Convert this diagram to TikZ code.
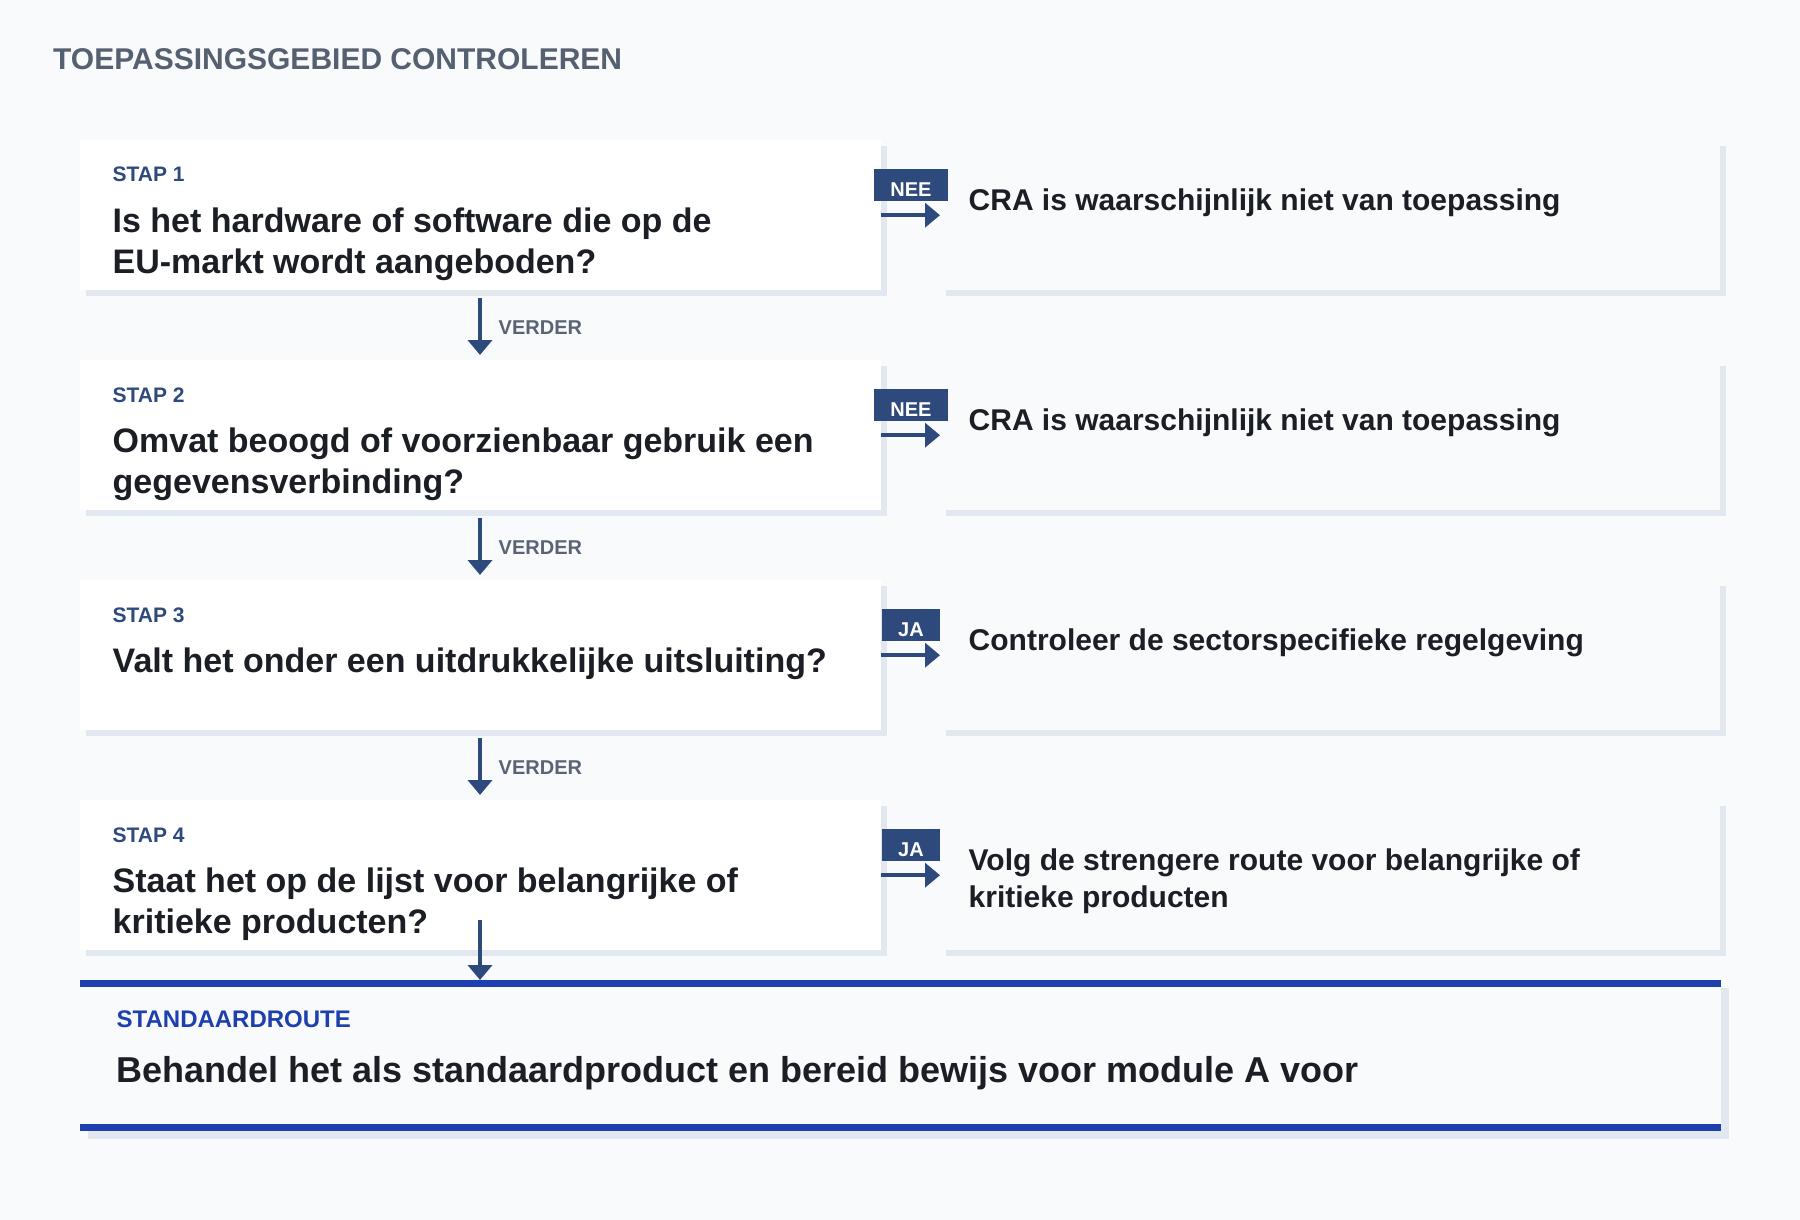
\documentclass[tikz,border=0pt]{standalone}
\usepackage{fontspec}
\setmainfont{Liberation Sans}
\usetikzlibrary{arrows.meta,calc}
\definecolor{bg}{HTML}{F8FAFC}
\definecolor{shadowc}{HTML}{E2E8F0}
\definecolor{navy}{HTML}{2E4A7D}
\definecolor{ink}{HTML}{1B1E24}
\definecolor{slate}{HTML}{556070}
\definecolor{muted}{HTML}{5A6475}
\definecolor{royal}{HTML}{1E40AF}
\newcommand{\mylines}[2]{\vtop{\hbox{#1}\hbox{#2}}}
\begin{document}
\begin{tikzpicture}[x=1pt,y=-1pt,
  shadowed/.style={preaction={fill=shadowc,transform canvas={shift={(#1,-#1)}}}},
  stepbox/.style={anchor=north west,inner sep=0pt,minimum width=801pt,minimum height=150pt,fill=white,shadowed=6pt},
  resultbox/.style={anchor=north west,inner sep=0pt,minimum width=780pt,minimum height=150pt,fill=bg,shadowed=6pt},
  stdbox/.style={anchor=north west,inner sep=0pt,minimum width=1641pt,minimum height=151pt,fill=bg,shadowed=8pt},
  steplabel/.style={anchor=base west,inner sep=0pt,text=navy,font=\fontsize{21}{25}\selectfont\bfseries},
  question/.style={anchor=base west,inner sep=0pt,text=ink,font=\fontsize{34}{41}\selectfont\bfseries},
  result/.style={anchor=base west,inner sep=0pt,text=ink,font=\fontsize{30}{37.3}\selectfont\bfseries},
  tag/.style={anchor=north,fill=navy,text=white,inner xsep=16.5pt,inner ysep=0pt,text height=27pt,text depth=5pt,font=\fontsize{20}{24}\selectfont\bfseries},
  flow/.style={draw=navy,line width=4.5pt,-{Triangle[width=24pt,length=15pt]}},
  verder/.style={anchor=base west,inner sep=0pt,text=muted,font=\fontsize{20}{24}\selectfont\bfseries}
]
\fill[bg] (0,0) rectangle (1800,1220);
\useasboundingbox (0,0) rectangle (1800,1220);

\node[anchor=base west,inner sep=0pt,text=slate,font=\fontsize{30}{36}\selectfont\bfseries] (title) at (53,70) {TOEPASSINGSGEBIED CONTROLEREN};

% step boxes
\node[stepbox] (b1) at (80,140) {};
\node[stepbox] (b2) at (80,360) {};
\node[stepbox] (b3) at (80,580) {};
\node[stepbox] (b4) at (80,800) {};
\node[resultbox] (r1) at (940,140) {};
\node[resultbox] (r2) at (940,360) {};
\node[resultbox] (r3) at (940,580) {};
\node[resultbox] (r4) at (940,800) {};

% standard route
\node[stdbox] (std) at (80,980) {};
\fill[royal] (std.north west) rectangle ($(std.north east)+(0,7)$);
\fill[royal] ($(std.south west)+(0,-7)$) rectangle (std.south east);

% step texts
\node[steplabel] (s1) at (112.5,182) {STAP 1};
\node[question] (q1) at (112.5,232) {\mylines{Is het hardware of software die op de}{EU-markt wordt aangeboden?}};
\node[steplabel] (s2) at (112.5,402) {STAP 2};
\node[question] (q2) at (112.5,452) {\mylines{Omvat beoogd of voorzienbaar gebruik een}{gegevensverbinding?}};
\node[steplabel] (s3) at (112.5,622) {STAP 3};
\node[question] (q3) at (112.5,672) {Valt het onder een uitdrukkelijke uitsluiting?};
\node[steplabel] (s4) at (112.5,842) {STAP 4};
\node[question] (q4) at (112.5,892) {\mylines{Staat het op de lijst voor belangrijke of}{kritieke producten?}};

% results
\node[result] (t1) at (968.5,210.5) {CRA is waarschijnlijk niet van toepassing};
\node[result] (t2) at (968.5,430.5) {CRA is waarschijnlijk niet van toepassing};
\node[result] (t3) at (968.5,650.5) {Controleer de sectorspecifieke regelgeving};
\node[result] (t4) at (968.5,870.5) {\mylines{Volg de strengere route voor belangrijke of}{kritieke producten}};

% side arrows and tags
\draw[flow] (b1.east) -- (r1.west);
\draw[flow] (b2.east) -- (r2.west);
\draw[flow] (b3.east) -- (r3.west);
\draw[flow] (b4.east) -- (r4.west);
\node[tag] (n1) at (911,169) {NEE};
\node[tag] (n2) at (911,389) {NEE};
\node[tag] (n3) at (911,609) {JA};
\node[tag] (n4) at (911,829) {JA};

% down arrows
\draw[flow] ($(b1.south west)+(400,8)$) -- ($(b2.north west)+(400,-5)$);
\draw[flow] ($(b2.south west)+(400,8)$) -- ($(b3.north west)+(400,-5)$);
\draw[flow] ($(b3.south west)+(400,8)$) -- ($(b4.north west)+(400,-5)$);
\draw[flow] ($(b4.south west)+(400,-30)$) -- ($(std.north west)+(400,0)$);
\node[verder] (v1) at (498.5,334) {VERDER};
\node[verder] (v2) at (498.5,554) {VERDER};
\node[verder] (v3) at (498.5,774) {VERDER};

% standard route texts
\node[anchor=base west,inner sep=0pt,text=royal,font=\fontsize{24}{28}\selectfont\bfseries] (stdlabel) at (116.5,1027.5) {STANDAARDROUTE};
\node[anchor=base west,inner sep=0pt,text=ink,font=\fontsize{36}{43}\selectfont\bfseries] (stdtext) at (116.5,1082.5) {Behandel het als standaardproduct en bereid bewijs voor module A voor};
\end{tikzpicture}
\end{document}
